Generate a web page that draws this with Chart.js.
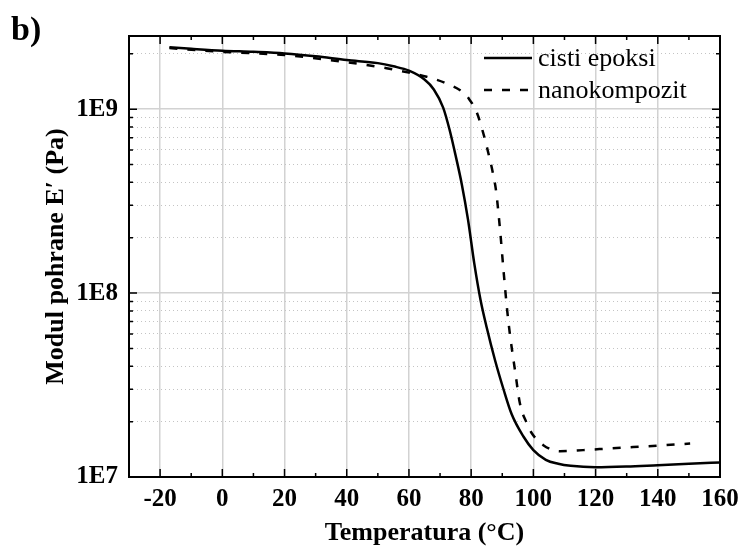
<!DOCTYPE html>
<html>
<head>
<meta charset="utf-8">
<script src="https://cdn.jsdelivr.net/npm/chart.js@4"></script>
<style>
  body { margin: 0; background: #fff; }
</style>
</head>
<body>
<canvas id="grafico" width="742" height="549"></canvas>
<script>
// podaci ocitani sa slike
var tempEpoksi = [-17, -10, 0, 10, 20, 30, 40, 50, 55, 60, 65, 68, 71, 73, 75, 77, 79, 81, 83, 85, 87.7, 90.4, 93, 96.8, 100, 104, 108, 112, 120, 130, 140, 150, 160];
var modulEpoksi = [2.17e9, 2.13e9, 2.08e9, 2.05e9, 2.01e9, 1.94e9, 1.85e9, 1.78e9, 1.71e9, 1.62e9, 1.45e9, 1.28e9, 1.02e9, 7.8e8, 5.6e8, 3.9e8, 2.5e8, 1.45e8, 9.2e7, 6.5e7, 4.3e7, 3.0e7, 2.2e7, 1.66e7, 1.40e7, 1.24e7, 1.18e7, 1.15e7, 1.13e7, 1.14e7, 1.16e7, 1.18e7, 1.20e7];

var tempNano = [-17, 0, 20, 40, 52.8, 60, 65.7, 71.6, 77.5, 79.1, 81.8, 83.9, 85.5, 87.1, 88, 89.3, 90.4, 91.6, 92.5, 94.1, 95.7, 97.9, 99.5, 103.2, 108.6, 116, 124.6, 139.6, 150.4];
var modulNano = [2.15e9, 2.05e9, 1.97e9, 1.80e9, 1.67e9, 1.58e9, 1.50e9, 1.39e9, 1.23e9, 1.15e9, 9.6e8, 7.4e8, 5.8e8, 4.4e8, 3.6e8, 2.2e8, 1.33e8, 8.0e7, 5.9e7, 3.8e7, 2.5e7, 1.96e7, 1.73e7, 1.49e7, 1.38e7, 1.40e7, 1.43e7, 1.48e7, 1.52e7];

var xTicks = [-20, 0, 20, 40, 60, 80, 100, 120, 140, 160];
var yTicks = [1e7, 2e7, 3e7, 4e7, 5e7, 6e7, 7e7, 8e7, 9e7, 1e8, 2e8, 3e8, 4e8, 5e8, 6e8, 7e8, 8e8, 9e8, 1e9, 2e9];

var nazivi = ['cisti epoksi', 'nanokompozit'];

var FONT = '"Liberation Serif", "Times New Roman", serif';

function jeDekada(v) {
    var l = Math.log10(v);
    return Math.abs(l - Math.round(l)) < 1e-6;
}

function spoji(xs, ys) {
    return xs.map(function (x, i) { return { x: x, y: ys[i] }; });
}

// okvir, unutrasnje crtice, legenda i oznaka b)
var okvirPlugin = {
    id: 'okvir',
    afterDraw: function (chart) {
        var ctx = chart.ctx;
        var a = chart.chartArea;
        var sx = chart.scales.x;
        var sy = chart.scales.y;

        ctx.save();
        ctx.strokeStyle = '#000';
        ctx.lineWidth = 2;
        ctx.strokeRect(a.left, a.top, a.right - a.left, a.bottom - a.top);

        ctx.lineWidth = 1.5;
        ctx.beginPath();
        for (var i = 0; i < xTicks.length; i++) {
            var px = sx.getPixelForValue(xTicks[i]);
            ctx.moveTo(px, a.bottom); ctx.lineTo(px, a.bottom - 8);
            ctx.moveTo(px, a.top); ctx.lineTo(px, a.top + 8);
            var m = xTicks[i] - 10;
            if (m > sx.min) {
                var pm = sx.getPixelForValue(m);
                ctx.moveTo(pm, a.bottom); ctx.lineTo(pm, a.bottom - 4);
                ctx.moveTo(pm, a.top); ctx.lineTo(pm, a.top + 4);
            }
        }
        for (var j = 0; j < yTicks.length; j++) {
            var py = sy.getPixelForValue(yTicks[j]);
            var len = jeDekada(yTicks[j]) ? 8 : 4;
            ctx.moveTo(a.left, py); ctx.lineTo(a.left + len, py);
            ctx.moveTo(a.right, py); ctx.lineTo(a.right - len, py);
        }
        ctx.stroke();

        // legenda
        var lx = a.right - 236;
        var ly = a.top + 22;
        ctx.font = '26px ' + FONT;
        ctx.textBaseline = 'middle';
        ctx.fillStyle = '#000';
        chart.data.datasets.forEach(function (ds, k) {
            var y = ly + k * 32;
            ctx.lineWidth = 2.5;
            ctx.setLineDash(ds.borderDash || []);
            ctx.beginPath();
            ctx.moveTo(lx, y);
            ctx.lineTo(lx + 48, y);
            ctx.stroke();
            ctx.setLineDash([]);
            ctx.fillText(ds.label, lx + 54, y + 1);
        });

        ctx.font = 'bold 34px ' + FONT;
        ctx.textBaseline = 'alphabetic';
        ctx.fillText('b)', 11, 40);
        ctx.restore();
    }
};

var grafik = new Chart(document.getElementById('grafico'), {
    type: 'line',
    data: {
        datasets: [{
            label: nazivi[0],
            data: spoji(tempEpoksi, modulEpoksi),
            borderColor: '#000',
            borderWidth: 2.5,
            pointRadius: 0,
            cubicInterpolationMode: 'monotone',
            fill: false
        }, {
            label: nazivi[1],
            data: spoji(tempNano, modulNano),
            borderColor: '#000',
            borderWidth: 2.5,
            borderDash: [8, 10],
            pointRadius: 0,
            cubicInterpolationMode: 'monotone',
            fill: false
        }]
    },
    options: {
        responsive: false,
        animation: false,
        layout: { padding: { left: 0, right: 22, top: 36, bottom: 0 } },
        plugins: {
            legend: { display: false },
            tooltip: { enabled: false }
        },
        scales: {
            x: {
                type: 'linear',
                min: -30,
                max: 160,
                afterBuildTicks: function (scale) {
                    scale.ticks = xTicks.map(function (v) { return { value: v }; });
                },
                afterFit: function (scale) {
                    scale.height = 72;
                    scale.paddingLeft = 0;
                    scale.paddingRight = 0;
                },
                grid: { color: '#d2d2d2', lineWidth: 1.5, drawTicks: false },
                border: { display: false },
                ticks: {
                    autoSkip: false,
                    maxRotation: 0,
                    padding: 8,
                    color: '#000',
                    font: { family: FONT, size: 25, weight: 'bold' }
                },
                title: {
                    display: true,
                    text: 'Temperatura (°C)',
                    color: '#000',
                    padding: { top: 0, bottom: 0 },
                    font: { family: FONT, size: 26, weight: 'bold' }
                }
            },
            y: {
                type: 'logarithmic',
                min: 1e7,
                max: 2.5e9,
                afterBuildTicks: function (scale) {
                    scale.ticks = yTicks.map(function (v) { return { value: v }; });
                },
                afterFit: function (scale) {
                    scale.width = 129;
                    scale.paddingTop = 0;
                    scale.paddingBottom = 0;
                },
                grid: {
                    drawTicks: false,
                    color: function (c) { return jeDekada(c.tick.value) ? '#d2d2d2' : '#c4c4c4'; },
                    lineWidth: function (c) { return jeDekada(c.tick.value) ? 1.5 : 1; }
                },
                border: {
                    display: false,
                    dash: function (c) { return (c.tick && jeDekada(c.tick.value)) ? [] : [1, 3]; }
                },
                ticks: {
                    autoSkip: false,
                    padding: 11,
                    color: '#000',
                    font: { family: FONT, size: 25, weight: 'bold' },
                    callback: function (v) {
                        return jeDekada(v) ? '1E' + Math.round(Math.log10(v)) : '';
                    }
                },
                title: {
                    display: true,
                    text: 'Modul pohrane E′ (Pa)',
                    color: '#000',
                    padding: { top: 41, bottom: 0 },
                    font: { family: FONT, size: 26, weight: 'bold' }
                }
            }
        }
    },
    plugins: [okvirPlugin]
});
</script>
</body>
</html>
